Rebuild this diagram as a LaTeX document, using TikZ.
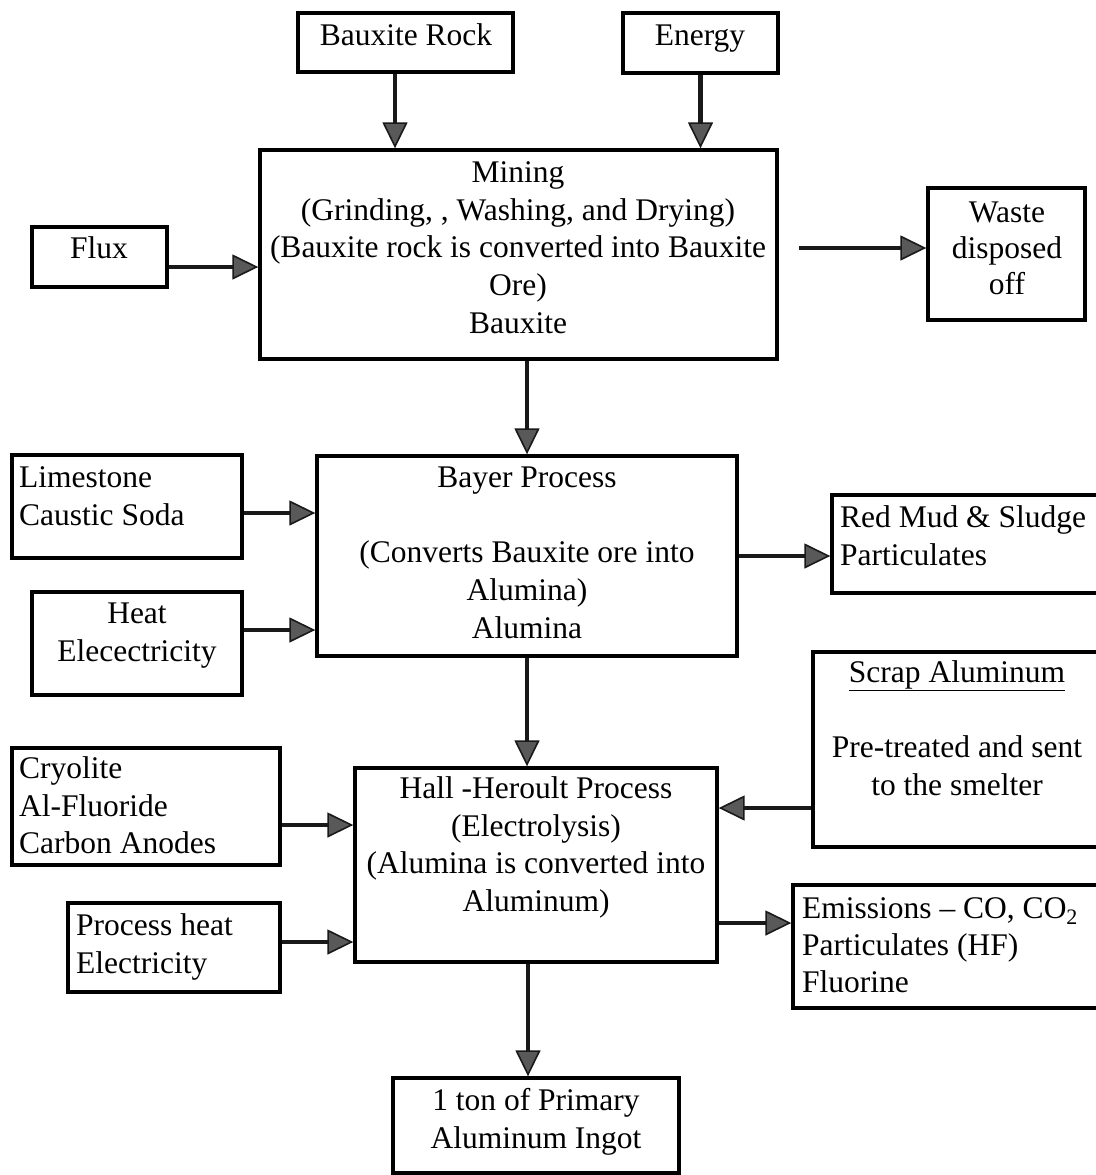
\documentclass[tikz,border=0pt]{standalone}
\usepackage{fontspec}
\setmainfont{Liberation Serif}
\usetikzlibrary{arrows.meta}
% fixed first-line height so every label can be placed by its top edge
\newcommand\topstrut{\rule{0pt}{24pt}}
\begin{document}
\begin{tikzpicture}[x=1pt,y=-1pt,
  box/.style={draw=black, line width=3.4pt, rectangle, inner sep=0pt},
  lbl/.style={font=\fontsize{31.5}{37.8}\selectfont, inner sep=0pt, anchor=north, align=center},
  lbll/.style={lbl, anchor=north west, align=left},
  flow/.style={draw=black!90, line width=4.2pt,
    -{Triangle[width=25pt,length=26pt,fill=black!65,line width=1.6pt]}}
]
\useasboundingbox (0,0) rectangle (1095,1175);
\fill[white] (0,0) rectangle (1095,1175);

% ---------- boxes ----------
\node[box, minimum width=215, minimum height=59]  (rock)   at (405.5,42.5) {};
\node[box, minimum width=155, minimum height=60]  (energy) at (700.5,43) {};
\node[box, minimum width=517, minimum height=209] (mining) at (518.5,254.5) {};
\node[box, minimum width=135, minimum height=60]  (flux)   at (99.5,257) {};
\node[box, minimum width=157, minimum height=132] (waste)  at (1006.5,254) {};
\node[box, minimum width=420, minimum height=200] (bayer)  at (527,556) {};
\node[box, minimum width=230, minimum height=103] (lime)   at (127,506.5) {};
\node[box, minimum width=210, minimum height=103] (heat)   at (137,643.5) {};
\node[box, minimum width=278, minimum height=98]  (redmud) at (971,544) {};
\node[box, minimum width=297, minimum height=195] (scrap)  at (961.5,749.5) {};
\node[box, minimum width=362, minimum height=194] (hall)   at (536,865) {};
\node[box, minimum width=268, minimum height=117] (cryo)   at (146,806.5) {};
\node[box, minimum width=212, minimum height=89]  (pheat)  at (174,947.5) {};
\node[box, minimum width=317, minimum height=123] (emis)   at (951.5,946.5) {};
\node[box, minimum width=286, minimum height=95]  (ingot)  at (536,1125.5) {};

% ---------- labels ----------
\node[lbl] (t-rock) at (406,21) {\topstrut Bauxite Rock};
\node[lbl] (t-energy) at (700,21) {\topstrut Energy};
\node[lbl] (t-mining) at (518,158) {\topstrut Mining\\(Grinding, , Washing, and Drying)\\(Bauxite rock is converted into Bauxite\\Ore)\\Bauxite};
\node[lbl] (t-flux) at (99,234) {\topstrut Flux};
\node[lbl, font=\fontsize{31.5}{36}\selectfont] (t-waste) at (1007,198) {\topstrut Waste\\disposed\\off};
\node[lbll] (t-lime) at (19,463) {\topstrut Limestone\\Caustic Soda};
\node[lbl] (t-heat) at (137,599) {\topstrut Heat\\Elecectricity};
\node[lbl] (t-bayer) at (527,463) {\topstrut Bayer Process\\\mbox{}\\(Converts Bauxite ore into\\Alumina)\\Alumina};
\node[lbll] (t-red) at (840,503) {\topstrut Red Mud \& Sludge\\Particulates};
\node[lbl] (t-scrap) at (957,658) {\topstrut\underline{Scrap Aluminum}\\\mbox{}\\Pre-treated and sent\\to the smelter};
\node[lbll] (t-cryo) at (19,754) {\topstrut Cryolite\\Al-Fluoride\\Carbon Anodes};
\node[lbl] (t-hall) at (536,774) {\topstrut Hall -Heroult Process\\(Electrolysis)\\(Alumina is converted into\\Aluminum)};
\node[lbll] (t-pheat) at (76,911) {\topstrut Process heat\\Electricity};
\node[lbll, font=\fontsize{31.5}{37}\selectfont] (t-emis) at (802,894) {\topstrut Emissions -- CO, CO\textsubscript{2}\\Particulates (HF)\\Fluorine};
\node[lbl] (t-ingot) at (536,1086) {\topstrut 1 ton of Primary\\Aluminum Ingot};

% ---------- flows ----------
\draw[flow] ([xshift=-10.5]rock.south) -- ([xshift=-10.5]rock.south |- mining.north);
\draw[flow] (energy.south) -- (energy.south |- mining.north);
\draw[flow] ([yshift=-10]flux.east) -- ([yshift=-10]flux.east -| mining.west);
\draw[flow] ([xshift=20,yshift=6.5]mining.east) -- ([yshift=6.5]mining.east -| waste.west);
\draw[flow] (mining.south -| bayer.north) -- (bayer.north);
\draw[flow] ([yshift=-6.5]lime.east) -- ([yshift=-6.5]lime.east -| bayer.west);
\draw[flow] ([yshift=13.5]heat.east) -- ([yshift=13.5]heat.east -| bayer.west);
\draw[flow] (bayer.east) -- (bayer.east -| redmud.west);
\draw[flow] (bayer.south) -- (bayer.south |- hall.north);
\draw[flow] ([yshift=-58.5]scrap.west) -- ([yshift=-58.5]scrap.west -| hall.east);
\draw[flow] ([yshift=-18.5]cryo.east) -- ([yshift=-18.5]cryo.east -| hall.west);
\draw[flow] ([yshift=5.5]pheat.east) -- ([yshift=5.5]pheat.east -| hall.west);
\draw[flow] ([yshift=-58]hall.east) -- ([yshift=-58]hall.east -| emis.west);
\draw[flow] ([xshift=-8]hall.south) -- ([xshift=-8]hall.south |- ingot.north);
\end{tikzpicture}
\end{document}
